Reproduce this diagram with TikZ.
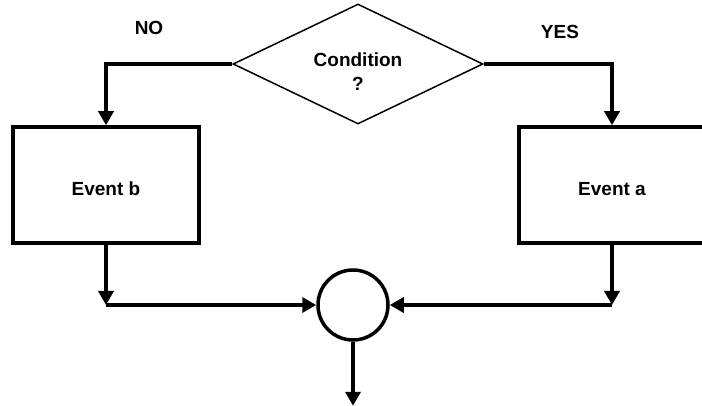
\documentclass[tikz,border=0pt]{standalone}
\usepackage{fontspec}
\setmainfont{Liberation Sans}
\usetikzlibrary{positioning, shapes.geometric, arrows.meta}

\begin{document}
\begin{tikzpicture}[x=1pt,y=-1pt,
                  decision/.style={diamond,draw,line width=1.5pt,aspect=2,inner sep=0pt,
                    minimum width=250pt,minimum height=120pt,align=center,
                    text height=54pt,text depth=0pt,
                    font=\fontsize{19}{24}\selectfont\bfseries},
                  event/.style={rectangle,draw,line width=3.5pt,inner sep=0pt,
                    minimum width=186pt,minimum height=116pt,
                    text height=22pt,text depth=0pt,
                    font=\fontsize{19}{24}\selectfont\bfseries},
                  junction/.style={circle,draw,line width=3.5pt,inner sep=0pt,
                    minimum size=70pt},
                  answer/.style={font=\fontsize{19}{24}\selectfont\bfseries},
                  post/.style={-{Triangle[length=14pt,width=15pt]},line width=3.5pt}
                  ]
                  \useasboundingbox (0,0) rectangle (702,406);
                  \node[decision] (cond) at (358,64) {Condition\\?};
                  \node[event] (evb) at (106,185) {Event b};
                  \node[event] (eva) at (612,185) {Event a};
                  \node[junction] (join) at (353,305) {};
                  \node[answer] (no) at (149,28) {NO};
                  \node[answer] (yes) at (560,32) {YES};

                  \coordinate (jb) at (evb.south |- join.west);
                  \coordinate (ja) at (eva.south |- join.east);
                  \coordinate (out) at ([yshift=-64pt]join.south);

                  \draw[post] (cond.west) -| (evb.north);
                  \draw[post] (cond.east) -| (eva.north);
                  \draw[post] (evb.south) -- (jb);
                  \draw[post] (jb) -- (join.west);
                  \draw[post] (eva.south) -- (ja);
                  \draw[post] (ja) -- (join.east);
                  \draw[post] (join.south) -- (out);
                \end{tikzpicture}
\end{document}
